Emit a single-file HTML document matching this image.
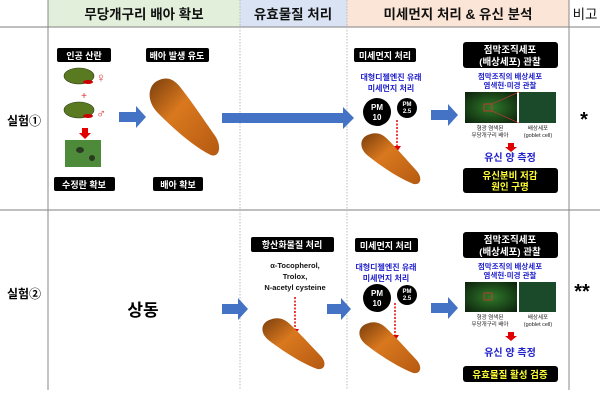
<!DOCTYPE html>
<html><head><meta charset="utf-8"><style>
html,body{margin:0;padding:0;background:#fff;}
svg{display:block;font-family:"Liberation Sans","Noto Sans CJK KR",sans-serif;}
.b{font-weight:bold;}
</style></head><body>
<svg width="600" height="413" viewBox="0 0 600 413" xmlns="http://www.w3.org/2000/svg">
<defs>
<linearGradient id="tg" x1="0" y1="0" x2="1" y2="1">
<stop offset="0" stop-color="#7a3e0c"/><stop offset="0.4" stop-color="#d9781e"/><stop offset="1" stop-color="#b55a12"/>
</linearGradient>
<radialGradient id="gi" cx="0.5" cy="0.5" r="0.7"><stop offset="0" stop-color="#2f7a2a"/><stop offset="1" stop-color="#0c200c"/></radialGradient>
<path id="tp" d="M10 2 C0 6,-2 22,8 34 C22 50,40 68,56 77 C64 80,66 68,60 58 C50 42,38 22,28 8 C22 0,16 -1,10 2 Z"/>
</defs>
<!-- header -->
<rect x="48" y="0" width="192" height="27" fill="#e2efda"/>
<rect x="240" y="0" width="107" height="27" fill="#dae3f3"/>
<rect x="347" y="0" width="222" height="27" fill="#fbe5d6"/>
<line x1="0" y1="27" x2="600" y2="27" stroke="#999" stroke-width="1.2"/>
<line x1="0" y1="210" x2="600" y2="210" stroke="#999" stroke-width="1.2"/>
<line x1="48" y1="0" x2="48" y2="390" stroke="#888" stroke-width="1"/>
<line x1="569" y1="0" x2="569" y2="390" stroke="#888" stroke-width="1"/>
<line x1="240" y1="0" x2="240" y2="390" stroke="#bbb" stroke-dasharray="1.5,1.5"/>
<line x1="347" y1="0" x2="347" y2="390" stroke="#bbb" stroke-dasharray="1.5,1.5"/>
<g font-size="13.5" class="b" text-anchor="middle" fill="#111">
<text x="144" y="19">무당개구리 배아 확보</text>
<text x="293" y="19">유효물질 처리</text>
<text x="458" y="19">미세먼지 처리 &amp; 유신 분석</text>
<text x="585" y="19" font-weight="normal">비고</text>
</g>
<g font-size="12" class="b" text-anchor="middle">
<text x="24" y="125">실험①</text>
<text x="24" y="298">실험②</text>
</g>
<text x="584" y="126" font-size="20" text-anchor="middle" class="b">*</text>
<text x="582" y="298" font-size="20" text-anchor="middle" class="b">**</text>
<text x="143" y="316" font-size="17" text-anchor="middle" class="b">상동</text>

<g fill="#000">
<rect x="57" y="48" width="54" height="14" rx="2"/>
<rect x="146" y="48" width="63" height="14" rx="2"/>
<rect x="54" y="177" width="61" height="14" rx="2"/>
<rect x="153" y="177" width="50" height="14" rx="2"/>
<rect x="354" y="48" width="62" height="14" rx="2"/>
<rect x="463" y="42" width="95" height="26" rx="3"/>
<rect x="463" y="168" width="95" height="25" rx="3"/>
<rect x="251" y="237" width="83" height="15" rx="2"/>
<rect x="355" y="238" width="63" height="14" rx="2"/>
<rect x="463" y="232" width="95" height="26" rx="3"/>
<rect x="463" y="366" width="95" height="16" rx="3"/>
</g>
<g fill="#fff" font-size="9" class="b" text-anchor="middle">
<text x="84" y="59">인공 산란</text>
<text x="177" y="59">배아 발생 유도</text>
<text x="84" y="188">수정란 확보</text>
<text x="178" y="188">배아 확보</text>
<text x="385" y="59">미세먼지 처리</text>
<text x="292" y="248">항산화물질 처리</text>
<text x="386" y="249">미세먼지 처리</text>
<text x="510" y="53" font-size="9.5">점막조직세포</text>
<text x="510" y="65" font-size="9.5">(배상세포) 관찰</text>
<text x="510" y="243" font-size="9.5">점막조직세포</text>
<text x="510" y="255" font-size="9.5">(배상세포) 관찰</text>
</g>
<g fill="#ffff33" font-size="9.5" class="b" text-anchor="middle">
<text x="510" y="179">유신분비 저감</text>
<text x="510" y="190">원인 구명</text>
<text x="510" y="378">유효물질 활성 검증</text>
</g>
<g fill="#2222cc" font-size="8" class="b" text-anchor="middle">
<text x="391" y="80">대형디젤엔진 유래</text>
<text x="391" y="91">미세먼지 처리</text>
<text x="386" y="270">대형디젤엔진 유래</text>
<text x="386" y="281">미세먼지 처리</text>
<text x="510" y="79" font-size="7.5">점막조직의 배상세포</text>
<text x="510" y="88" font-size="7.5">염색현·미경 관찰</text>
<text x="510" y="269" font-size="7.5">점막조직의 배상세포</text>
<text x="510" y="278" font-size="7.5">염색현·미경 관찰</text>
<text x="510" y="161" font-size="10">유신 양 측정</text>
<text x="510" y="356" font-size="10">유신 양 측정</text>
</g>
<g fill="#111" font-size="7.5" class="b" text-anchor="middle">
<text x="295" y="268">α-Tocopherol,</text>
<text x="295" y="279">Trolox,</text>
<text x="295" y="290">N-acetyl cysteine</text>
</g>
<g>
<circle cx="377" cy="112" r="14" fill="#000"/><circle cx="407" cy="108" r="10" fill="#000"/>
<circle cx="377" cy="298" r="14" fill="#000"/><circle cx="407" cy="295" r="10" fill="#000"/>
</g>
<g fill="#fff" class="b" text-anchor="middle">
<text x="377" y="110" font-size="8">PM</text><text x="377" y="120" font-size="8">10</text>
<text x="407" y="106" font-size="6">PM</text><text x="407" y="113" font-size="6">2.5</text>
<text x="377" y="296" font-size="8">PM</text><text x="377" y="306" font-size="8">10</text>
<text x="407" y="293" font-size="6">PM</text><text x="407" y="300" font-size="6">2.5</text>
</g>
<g fill="#4472c4">
<polygon points="119,112 136,112 136,106 146,117 136,128 136,122 119,122"/>
<polygon points="222,113 343,113 343,107 354,118 343,129 343,123 222,123"/>
<polygon points="431,110 448,110 448,104 458,115 448,126 448,120 431,120"/>
<polygon points="222,304 238,304 238,298 248,309 238,320 238,314 222,314"/>
<polygon points="327,304 341,304 341,298 351,309 341,320 341,314 327,314"/>
<polygon points="431,303 448,303 448,297 458,308 448,319 448,313 431,313"/>
</g>
<g fill="#e00000">
<polygon points="82,128 88,128 88,133 91,133 85,139 79,133 82,133"/>
<polygon points="508,143 514,143 514,147 517,147 511,152 505,147 508,147"/>
<polygon points="508,332 514,332 514,336 517,336 511,341 505,336 508,336"/>
</g>
<g stroke="#e00000" stroke-width="1.5" stroke-dasharray="2,1.5">
<line x1="397" y1="120" x2="397" y2="146"/><line x1="295" y1="297" x2="295" y2="329"/><line x1="395" y1="303" x2="395" y2="335"/>
</g>
<g fill="#e00000"><polygon points="393,146 401,146 397,152"/><polygon points="291,329 299,329 295,335"/><polygon points="391,335 399,335 395,341"/></g>
<g fill="#5a7a22" stroke="#2a3a10" stroke-width="0.6">
<ellipse cx="79" cy="76" rx="15" ry="8"/><ellipse cx="79" cy="110" rx="15" ry="8"/>
</g>
<g fill="#c00">
<ellipse cx="88" cy="82" rx="5" ry="2"/><ellipse cx="88" cy="116" rx="5" ry="2"/>
</g>
<g fill="#e03030" font-size="13" text-anchor="middle">
<text x="101" y="82">♀</text><text x="101" y="118">♂</text><text x="84" y="99" font-size="10">+</text>
</g>
<rect x="65" y="140" width="36" height="27" fill="#4d8a3a"/>
<ellipse cx="80" cy="150" rx="4" ry="3" fill="#2a3a20"/><ellipse cx="92" cy="158" rx="3" ry="3" fill="#2a3a20"/>
<rect x="465" y="92" width="52" height="31" fill="url(#gi)"/>
<rect x="519" y="92" width="37" height="31" fill="#1a4a2a"/>
<rect x="484" y="104" width="8" height="7" fill="none" stroke="#d33" stroke-width="0.8"/>
<line x1="492" y1="104" x2="519" y2="92" stroke="#d33" stroke-width="0.6"/><line x1="492" y1="111" x2="519" y2="123" stroke="#d33" stroke-width="0.6"/>
<rect x="465" y="282" width="52" height="30" fill="url(#gi)"/>
<rect x="519" y="282" width="37" height="30" fill="#1a4a2a"/>
<rect x="484" y="293" width="8" height="7" fill="none" stroke="#d33" stroke-width="0.8"/>
<g font-size="5.5" fill="#222" text-anchor="middle">
<text x="490" y="130">형광 염색된</text><text x="490" y="137">무당개구리 배아</text>
<text x="538" y="130">배상세포</text><text x="538" y="137">(goblet cell)</text>
<text x="490" y="319">형광 염색된</text><text x="490" y="326">무당개구리 배아</text>
<text x="538" y="319">배상세포</text><text x="538" y="326">(goblet cell)</text>
</g>
<g fill="url(#tg)">
<use href="#tp" transform="translate(148,78) scale(1.12,1.0)"/>
<use href="#tp" transform="translate(360,133) scale(0.95,0.66)"/>
<use href="#tp" transform="translate(261,318) scale(1.0,0.66)"/>
<use href="#tp" transform="translate(358,322) scale(0.98,0.66)"/>
</g>
</svg>
</body></html>
